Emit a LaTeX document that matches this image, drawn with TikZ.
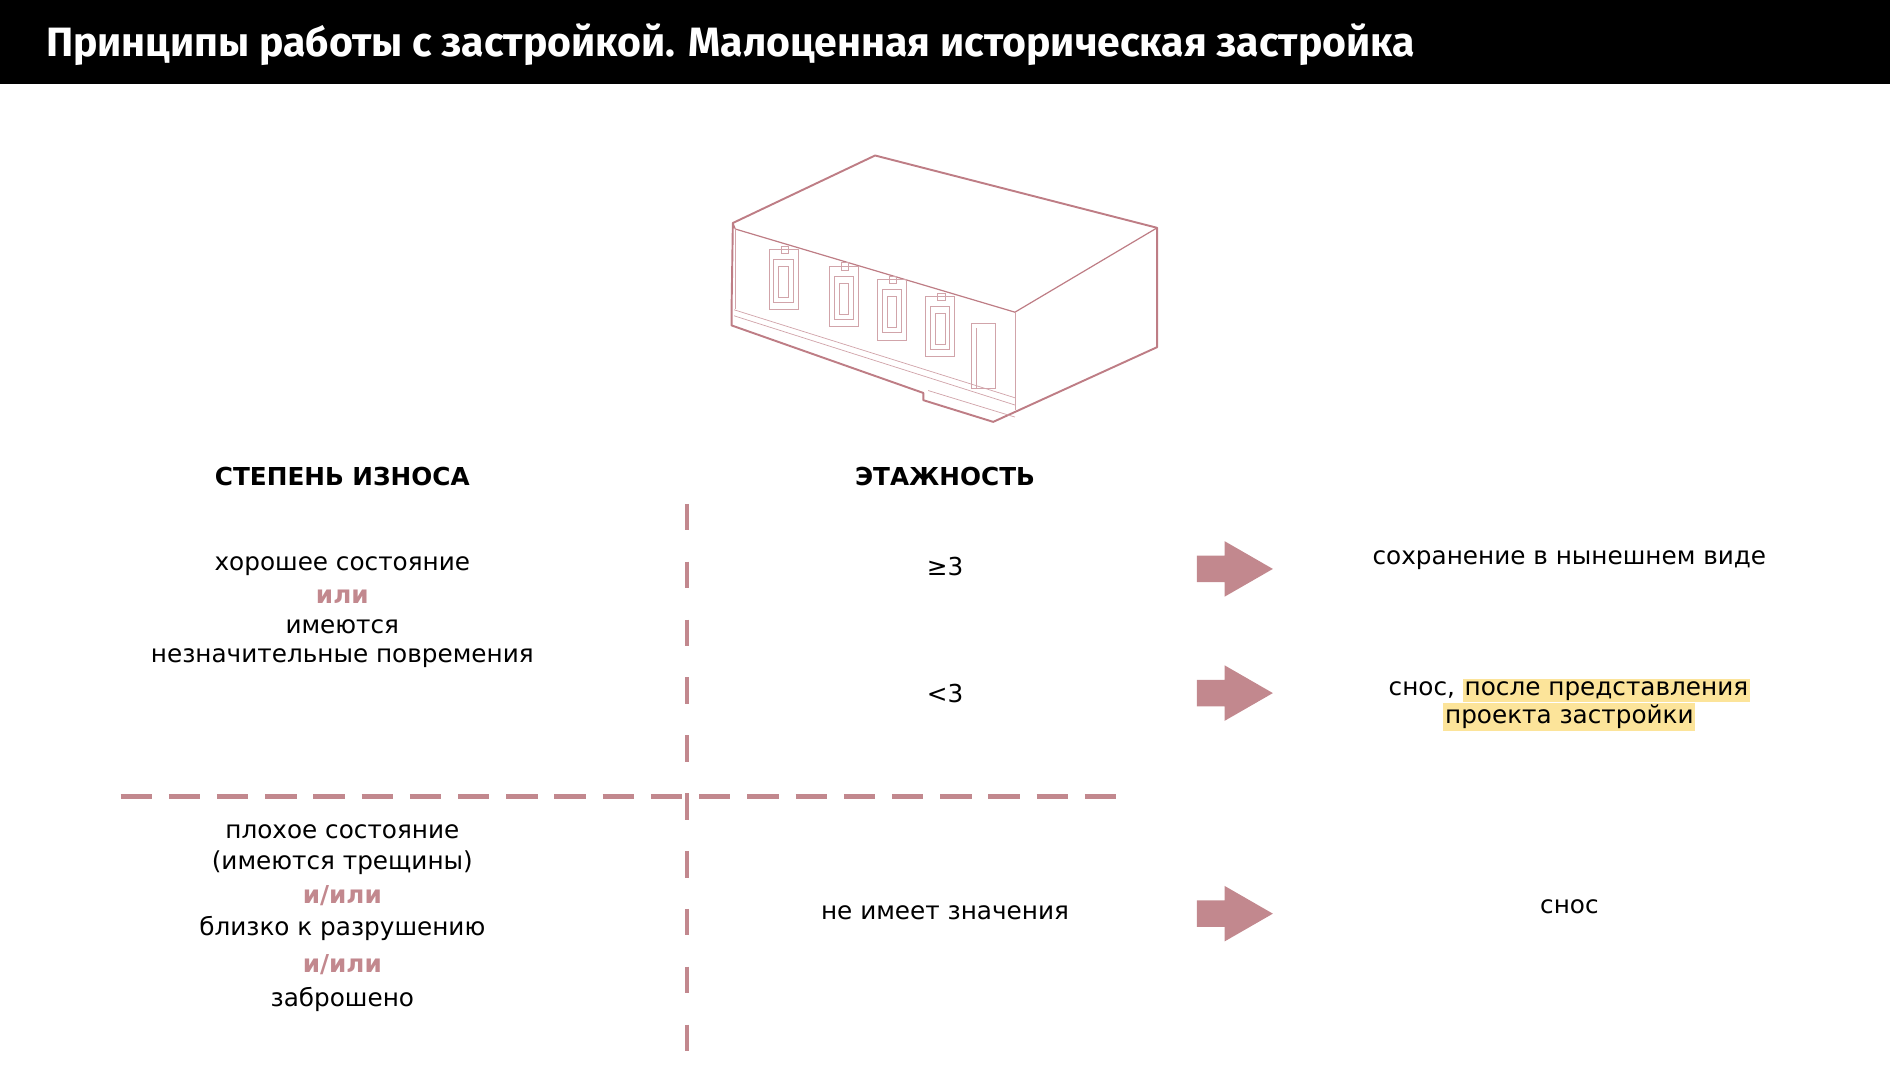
\documentclass[tikz,border=0pt]{standalone}
\usepackage{fontspec}
\setmainfont{DejaVu Sans}
\newfontfamily\titlefont{Fira Sans}
\definecolor{pk}{HTML}{C2888E}
\definecolor{bl}{HTML}{BE7D85}
\definecolor{hly}{HTML}{FCE49A}
\newcommand\hlt[1]{{\setlength\fboxsep{1.5pt}\colorbox{hly}{#1}}}
\begin{document}
\begin{tikzpicture}[x=1pt,y=-1pt,
  txt/.style={font=\fontsize{20.5}{26}\selectfont,align=center,inner sep=0},
  hd/.style={font=\fontsize{20.5}{24}\selectfont\bfseries,inner sep=0},
  orr/.style={font=\fontsize{20.5}{24}\selectfont\bfseries,text=pk,inner sep=0},
  dsh/.style={draw=pk,line width=4},
  bld/.style={draw=bl,line width=1.6,line join=round},
  thin/.style={draw=bl!70,line width=0.6},
  arr/.style={fill=pk,draw=none}]
\useasboundingbox (0,0) rectangle (1568,896);
\fill[black] (0,0) rectangle (1568,70);
\node[anchor=base west,text=white,inner sep=0,font=\titlefont\fontsize{34}{38}\selectfont\bfseries] (title) at (38,47) {Принципы работы с застройкой. Малоценная историческая застройка};
% building
\draw[bld] (608,185) -- (726,129) -- (960,189) -- (960,288) -- (824,350) -- (766,332) -- (766,326) -- (607,270) -- (607,251) -- (608,185) -- cycle;
\draw[bld,line width=1] (608,185) -- (610,190) -- (842,259) -- (960,189);
\draw[thin] (610,190) -- (610,256);
\draw[thin] (842,259) -- (842,340);
\draw[thin] (609,257) -- (842,330);
\draw[thin] (609,262) -- (842,336);
\draw[thin] (770,324) -- (842,346);
\foreach \x/\y in {638/207,688/221,728/232,768/246}{
  \draw[thin] (\x,\y) rectangle ++(24,50);
  \draw[thin] (\x+4,\y+8) rectangle ++(16,36);
  \draw[thin] (\x+8,\y+14) rectangle ++(8,26);
  \draw[thin] (\x+10,\y-3) rectangle ++(6,6);
}
\draw[thin] (806,268) rectangle (826,322);
\draw[thin] (810,272) -- (810,322);
% dashed lines
\draw[dsh,dash pattern=on 22 off 26] (570,418) -- (570,896);
\draw[dsh,dash pattern=on 26 off 14] (100,661) -- (930,661);
% headers
\node[hd] (h1) at (284,395) {СТЕПЕНЬ ИЗНОСА};
\node[hd] (h2) at (784,395) {ЭТАЖНОСТЬ};
% left column
\node[txt] (l1) at (284,470) {хорошее состояние};
\node[orr] (l2) at (284,495) {или};
\node[txt] (l3) at (284,520) {имеются};
\node[txt] (l4) at (284,546) {незначительные повремения};
\node[txt] (m1) at (284,690) {плохое состояние};
\node[txt] (m2) at (284,716) {(имеются трещины)};
\node[orr] (m3) at (284,743) {и/или};
\node[txt] (m4) at (284,770) {близко к разрушению};
\node[orr] (m5) at (284,800) {и/или};
\node[txt] (m6) at (284,829) {заброшено};
% middle
\node[txt] (e1) at (784,470) {≥3};
\node[txt] (e2) at (784,575) {<3};
\node[txt] (e3) at (784,757) {не имеет значения};
% arrows
\foreach \n/\y in {a1/472,a2/575,a3/758}{
  \fill[arr] (993,\y-11) -- (1016,\y-11) -- (1016,\y-23) -- (1056,\y) -- (1016,\y+23) -- (1016,\y+11) -- (993,\y+11) -- cycle;
  \coordinate (\n) at (1024,\y);
}
% right
\node[txt] (r1) at (1302,465) {сохранение в нынешнем виде};
\node[txt] (r2) at (1302,585) {снос, \hlt{после представления}\\[-2pt]\hlt{проекта застройки}};
\node[txt] (r3) at (1302,752) {снос};
\end{tikzpicture}
\end{document}
